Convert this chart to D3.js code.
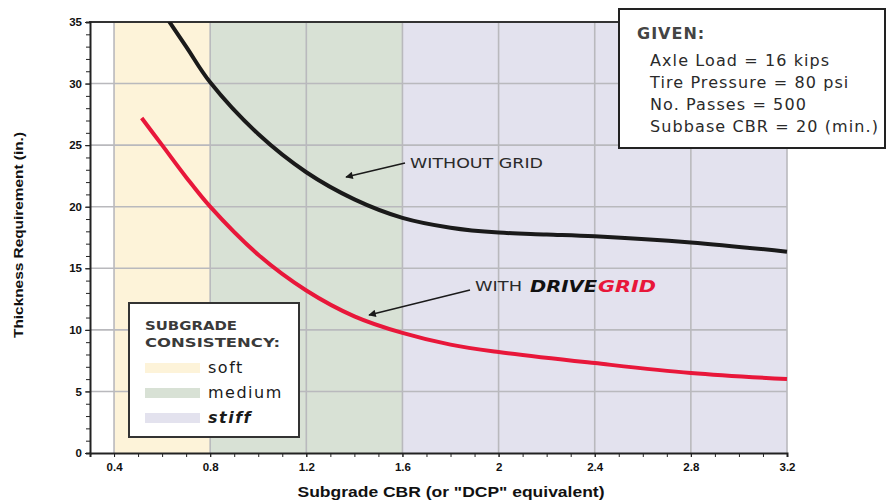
<!DOCTYPE html>
<html>
<head>
<meta charset="utf-8">
<script src="https://d3js.org/d3.v7.min.js"></script>
<style>
  body { margin: 0; background: #fff; }
  .tick text { font-family: "Liberation Sans", Arial, sans-serif; font-weight: bold; font-size: 11.5px; fill: #111; }
  .axis path, .axis line { stroke: #222; }
  .note { font-family: "DejaVu Sans", sans-serif; }
</style>
</head>
<body>
<svg width="887" height="503"></svg>
<script>
// x ticks (subgrade CBR) and y ticks (thickness, in.)
var xTicks = [0.4, 0.8, 1.2, 1.6, 2.0, 2.4, 2.8, 3.2];
var xTickLabels = ["0.4", "0.8", "1.2", "1.6", "2", "2.4", "2.8", "3.2"];
var yTicks = [0, 5, 10, 15, 20, 25, 30, 35];

// subgrade consistency zones
var zoneNames = ["soft", "medium", "stiff"];
var zoneStart = [0.4, 0.8, 1.6];
var zoneEnd = [0.8, 1.6, 3.2];
var zoneColors = ["#fdf3d9", "#d8e1d5", "#e3e2ee"];

// curves
var withoutCbr = [0.61, 0.7, 0.8, 1.0, 1.2, 1.4, 1.6, 1.8, 2.0, 2.2, 2.4, 2.8, 3.2];
var withoutThk = [35.6, 33.0, 30.1, 25.9, 22.8, 20.6, 19.1, 18.3, 17.9, 17.75, 17.6, 17.1, 16.35];
var withCbr = [0.515, 0.6, 0.7, 0.8, 1.0, 1.2, 1.4, 1.6, 1.8, 2.0, 2.4, 2.8, 3.2];
var withThk = [27.2, 25.0, 22.4, 20.0, 16.1, 13.2, 11.1, 9.75, 8.8, 8.2, 7.3, 6.5, 6.0];

var givenLines = ["Axle Load = 16 kips", "Tire Pressure = 80 psi", "No. Passes = 500", "Subbase CBR = 20 (min.)"];

var svg = d3.select("svg");

var x = d3.scaleLinear().domain([0.3, 3.2]).range([90, 787]);
var y = d3.scaleLinear().domain([0, 35]).range([453, 22]);

// zone bands
svg.selectAll(".zone")
    .data(zoneNames)
  .enter().append("rect")
    .attr("x", function(d, i) { return x(zoneStart[i]); })
    .attr("width", function(d, i) { return x(zoneEnd[i]) - x(zoneStart[i]); })
    .attr("y", y(35))
    .attr("height", y(0) - y(35))
    .attr("fill", function(d, i) { return zoneColors[i]; });

// grid
svg.selectAll(".vgrid")
    .data(xTicks)
  .enter().append("line")
    .attr("x1", function(d) { return x(d); })
    .attr("x2", function(d) { return x(d); })
    .attr("y1", y(35)).attr("y2", y(0))
    .attr("stroke", "#b9b9bd").attr("stroke-width", 1.6);
svg.selectAll(".hgrid")
    .data(yTicks.slice(1, -1))
  .enter().append("line")
    .attr("x1", x(0.3)).attr("x2", x(3.2))
    .attr("y1", function(d) { return y(d); })
    .attr("y2", function(d) { return y(d); })
    .attr("stroke", "#b9b9bd").attr("stroke-width", 1.6);

// top frame line
svg.append("line")
    .attr("x1", x(0.3) - 1).attr("x2", x(3.2))
    .attr("y1", y(35)).attr("y2", y(35))
    .attr("stroke", "#333").attr("stroke-width", 2);

// axes: minor ticks first, then labelled majors
var xAxisG = svg.append("g").attr("class", "axis").attr("transform", "translate(0," + y(0) + ")");
xAxisG.call(d3.axisBottom(x).tickValues(d3.range(3, 33).map(function(d) { return d / 10; }))
    .tickSize(4).tickFormat(""));
xAxisG.append("g").call(d3.axisBottom(x).tickValues(xTicks).tickSize(4)
    .tickFormat(function(d, i) { return xTickLabels[i]; }))
    .call(function(g) { g.select(".domain").remove(); g.selectAll("text").attr("dy", "0.95em"); });
xAxisG.select(".domain").attr("stroke-width", 2);

var yAxisG = svg.append("g").attr("class", "axis").attr("transform", "translate(" + x(0.3) + ",0)");
yAxisG.call(d3.axisLeft(y).tickValues(d3.range(0, 36)).tickSize(4).tickFormat(""));
yAxisG.append("g").call(d3.axisLeft(y).tickValues(yTicks).tickSize(5))
    .call(function(g) { g.select(".domain").remove(); g.selectAll("text").attr("x", -8); });
yAxisG.select(".domain").attr("stroke-width", 2);

// curves
svg.append("clipPath").attr("id", "plotclip").append("rect")
    .attr("x", x(0.3)).attr("y", y(35)).attr("width", x(3.2) - x(0.3) + 4).attr("height", y(0) - y(35));

var line = d3.line()
    .x(function(d) { return x(d[0]); })
    .y(function(d) { return y(d[1]); })
    .curve(d3.curveCatmullRom);

svg.append("path")
    .datum(d3.zip(withoutCbr, withoutThk))
    .attr("clip-path", "url(#plotclip)")
    .attr("fill", "none").attr("stroke", "#1a1a1a").attr("stroke-width", 4)
    .attr("d", line);
svg.append("path")
    .datum(d3.zip(withCbr, withThk))
    .attr("fill", "none").attr("stroke", "#e8173a").attr("stroke-width", 4)
    .attr("d", line);

// annotations with arrows
svg.append("defs").append("marker")
    .attr("id", "arrow").attr("viewBox", "0 0 10 10")
    .attr("refX", 9).attr("refY", 5)
    .attr("markerWidth", 6).attr("markerHeight", 5)
    .attr("orient", "auto")
  .append("path").attr("d", "M0,0L10,5L0,10z").attr("fill", "#1a1a1a");

svg.append("line")
    .attr("x1", 405).attr("y1", 163).attr("x2", 346).attr("y2", 177)
    .attr("stroke", "#1a1a1a").attr("stroke-width", 1.5).attr("marker-end", "url(#arrow)");
svg.append("text").attr("class", "note")
    .attr("x", 410).attr("y", 168).attr("font-size", 14).style("fill", "#2a2a2a")
    .attr("textLength", 133).attr("lengthAdjust", "spacingAndGlyphs")
    .text("WITHOUT GRID");

svg.append("line")
    .attr("x1", 470).attr("y1", 290).attr("x2", 369).attr("y2", 315)
    .attr("stroke", "#1a1a1a").attr("stroke-width", 1.5).attr("marker-end", "url(#arrow)");
svg.append("text").attr("class", "note")
    .attr("x", 475).attr("y", 291).attr("font-size", 14).style("fill", "#2a2a2a")
    .attr("textLength", 47).attr("lengthAdjust", "spacingAndGlyphs")
    .text("WITH");
svg.append("text").attr("class", "note")
    .attr("x", 530).attr("y", 292).attr("font-size", 16)
    .attr("font-weight", "bold").attr("font-style", "italic").style("fill", "#111")
    .attr("textLength", 67).attr("lengthAdjust", "spacingAndGlyphs")
    .text("DRIVE");
svg.append("text").attr("class", "note")
    .attr("x", 598).attr("y", 292).attr("font-size", 16)
    .attr("font-weight", "bold").attr("font-style", "italic").style("fill", "#e8173a")
    .attr("textLength", 58).attr("lengthAdjust", "spacingAndGlyphs")
    .text("GRID");

// GIVEN box
svg.append("rect")
    .attr("x", 619).attr("y", 9).attr("width", 266).attr("height", 139)
    .attr("fill", "#fff").attr("stroke", "#222").attr("stroke-width", 2);
svg.append("text").attr("class", "note")
    .attr("x", 637).attr("y", 39).attr("font-size", 16).attr("font-weight", "bold").style("fill", "#444")
    .attr("letter-spacing", 1)
    .text("GIVEN:");
svg.selectAll(".given")
    .data(givenLines)
  .enter().append("text").attr("class", "note")
    .attr("x", 650)
    .attr("y", function(d, i) { return 66 + i * 22; })
    .attr("font-size", 16).style("fill", "#2a2a2a")
    .attr("letter-spacing", 1.1)
    .text(function(d) { return d; });

// zone legend
svg.append("rect")
    .attr("x", 129).attr("y", 303).attr("width", 170).attr("height", 134)
    .attr("fill", "#fff").attr("stroke", "#333").attr("stroke-width", 2);
svg.append("text").attr("class", "note")
    .attr("x", 145).attr("y", 330).attr("font-size", 13).attr("font-weight", "bold").style("fill", "#3a3a3a")
    .attr("textLength", 92).attr("lengthAdjust", "spacingAndGlyphs")
    .text("SUBGRADE");
svg.append("text").attr("class", "note")
    .attr("x", 145).attr("y", 347).attr("font-size", 13).attr("font-weight", "bold").style("fill", "#3a3a3a")
    .attr("textLength", 135).attr("lengthAdjust", "spacingAndGlyphs")
    .text("CONSISTENCY:");
svg.selectAll(".swatch")
    .data(zoneNames)
  .enter().append("rect")
    .attr("x", 145).attr("y", function(d, i) { return 363 + i * 25; })
    .attr("width", 55).attr("height", 10)
    .attr("fill", function(d, i) { return zoneColors[i]; });
svg.selectAll(".zlabel")
    .data(zoneNames)
  .enter().append("text").attr("class", "note")
    .attr("x", 208).attr("y", function(d, i) { return 373 + i * 25; })
    .attr("font-size", 16)
    .attr("letter-spacing", 1.5)
    .attr("font-weight", function(d, i) { return i == 2 ? "bold" : null; })
    .attr("font-style", function(d, i) { return i == 2 ? "italic" : null; })
    .style("fill", "#1a1a1a")
    .text(function(d) { return d; });

// axis titles
svg.append("text")
    .attr("transform", "translate(23,235) rotate(-90)")
    .attr("text-anchor", "middle")
    .attr("font-family", "Liberation Sans, Arial, sans-serif").attr("font-weight", "bold").attr("font-size", 13)
    .attr("fill", "#111")
    .attr("textLength", 206).attr("lengthAdjust", "spacingAndGlyphs")
    .text("Thickness Requirement (in.)");
svg.append("text")
    .attr("x", 451).attr("y", 497)
    .attr("text-anchor", "middle")
    .attr("font-family", "Liberation Sans, Arial, sans-serif").attr("font-weight", "bold").attr("font-size", 14)
    .attr("fill", "#111")
    .attr("textLength", 307).attr("lengthAdjust", "spacingAndGlyphs")
    .text("Subgrade CBR (or \"DCP\" equivalent)");
</script>
</body>
</html>
